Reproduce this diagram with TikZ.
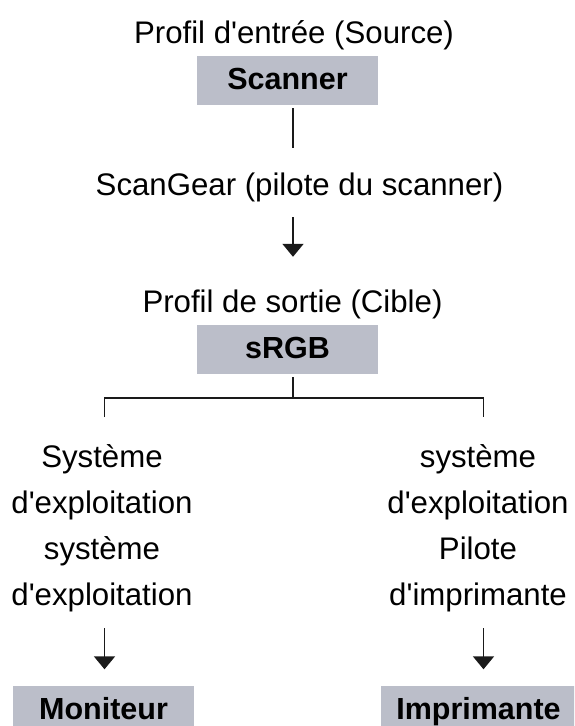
\documentclass[tikz,border=0pt]{standalone}
\usepackage{fontspec}
\setmainfont{Liberation Sans}[Ligatures=TeXOff]
\usetikzlibrary{arrows.meta,positioning}
\definecolor{boxGrey}{HTML}{BBBEC9}
\definecolor{lineDark}{HTML}{1A1A1A}

\begin{document}
\begin{tikzpicture}[x=1pt,y=-1pt,
  txt/.style={inner sep=0pt,anchor=base,text height=23pt,text depth=7pt,font=\fontsize{31.2}{36}\selectfont},
  devbox/.style={rectangle,fill=boxGrey,inner sep=0pt,minimum width=181pt,minimum height=49pt,text height=23pt,text depth=6pt,font=\fontsize{30.5}{36}\selectfont\bfseries},
  branch/.style={draw=lineDark,line width=1.8pt},
  flow/.style={branch,-{Triangle[width=21pt,length=13pt]}}
]
\clip (0,0) rectangle (574,726);
\coordinate (axis) at (293,0);
\coordinate (fork) at (293,398);
\coordinate (dropL) at (104.5,417);
\coordinate (dropR) at (483.5,417);

% source side
\node[txt] (profin) at (294,43) {Profil d'entrée (Source)};
\node[devbox] (scanner) at (287.5,80.5) {Scanner};
\node[txt] (scangear) at (299.5,195) {ScanGear (pilote du scanner)};
\node[txt] (profout) at (292.5,312) {Profil de sortie (Cible)};
\node[devbox] (srgb) at (287.5,349.5) {sRGB};

\draw[branch,shorten <=3pt,shorten >=24pt] (scanner.south -| axis) -- (scangear.north -| axis);
\draw[flow,shorten <=15pt,shorten >=32pt] (scangear.south -| axis) -- (profout.north -| axis);
\draw[branch,shorten <=3pt] (srgb.south -| fork) -- (fork);
\draw[branch] (dropL) |- (fork) -| (dropR);

% output side
\foreach \t [count=\i] in {Système,d'exploitation,système,d'exploitation}
  \node[txt] (osl\i) at (102,{467+46.3*(\i-1)}) {\t};
\foreach \t [count=\i] in {système,d'exploitation,Pilote,d'imprimante}
  \node[txt] (osr\i) at (478,{467+46.3*(\i-1)}) {\t};
\node[devbox] (monitor) at (103.5,710.5) {Moniteur};
\node[devbox,minimum width=195pt] (printer) at (478.5,710.5) {Imprimante};

\draw[flow,shorten <=15pt,shorten >=16.5pt] (osl4.south -| dropL) -- (monitor.north -| dropL);
\draw[flow,shorten <=15pt,shorten >=16.5pt] (osr4.south -| dropR) -- (printer.north -| dropR);
\end{tikzpicture}
\end{document}
